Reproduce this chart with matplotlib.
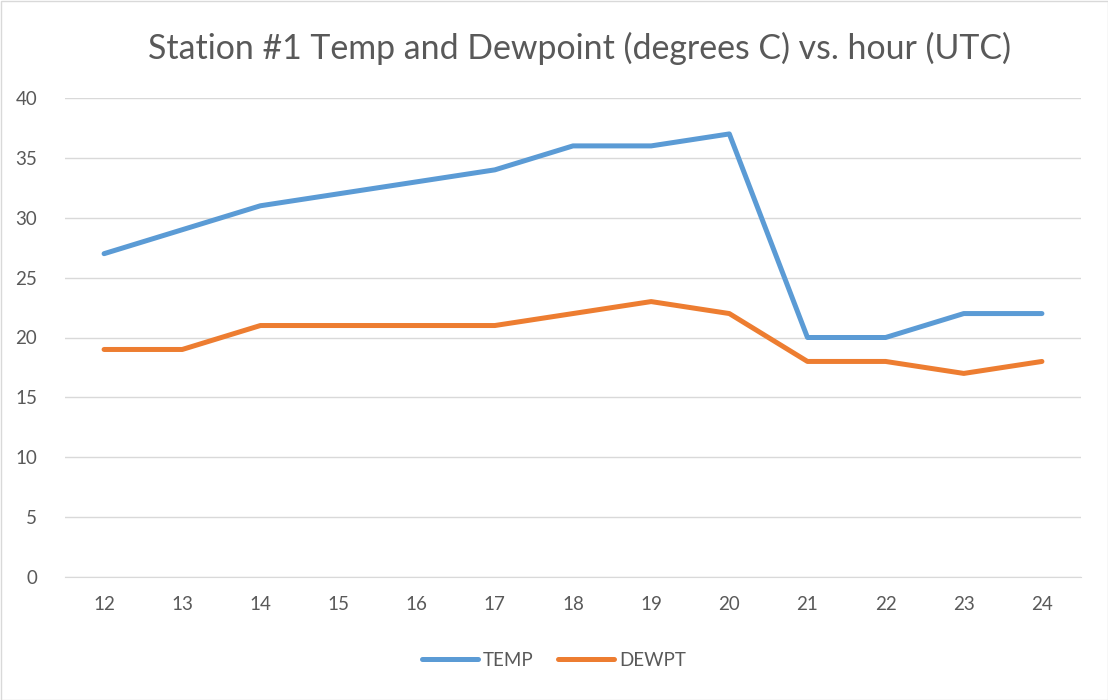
import matplotlib
matplotlib.use("Agg")
import matplotlib.pyplot as plt
from matplotlib.patches import Rectangle

hours = ["12", "13", "14", "15", "16", "17", "18", "19", "20", "21", "22", "23", "24"]
temp = [27, 29, 31, 32, 33, 34, 36, 36, 37, 20, 20, 22, 22]
dewpt = [19, 19, 21, 21, 21, 21, 22, 23, 22, 18, 18, 17, 18]
yticks = [0, 5, 10, 15, 20, 25, 30, 35, 40]

plt.rcParams['font.family'] = ['Lato', 'DejaVu Sans']

fig = plt.figure(figsize=(11.08, 7.0), dpi=100)
ax = fig.add_axes([65/1108, 1 - 577/700, (1081 - 65)/1108, (577 - 98)/700])

x = list(range(len(hours)))
ax.plot(x, temp, color="#5B9BD5", lw=3.6, label="TEMP", solid_capstyle="round", solid_joinstyle="round")
ax.plot(x, dewpt, color="#ED7D31", lw=3.6, label="DEWPT", solid_capstyle="round", solid_joinstyle="round")

ax.set_xlim(-0.5, len(hours) - 0.5)
ax.set_ylim(0, 40)
ax.set_xticks(x)
ax.set_xticklabels(hours)
ax.set_yticks(yticks)
ax.tick_params(axis="both", length=0, labelsize=13.5, labelcolor="#595959")
ax.tick_params(axis="x", pad=14)
ax.tick_params(axis="y", pad=20)
for lab in ax.get_yticklabels():
    lab.set_horizontalalignment("right")
ax.grid(axis="y", color="#D9D9D9", lw=1)
ax.set_axisbelow(True)
for s in ["top", "right", "left"]:
    ax.spines[s].set_visible(False)
ax.spines["bottom"].set_color("#D9D9D9")

fig.text(579/1108, 1 - 48/700, "Station #1 Temp and Dewpoint (degrees C) vs. hour (UTC)",
         ha="center", va="center", fontsize=24.4, color="#595959")

leg = fig.legend(loc="center", bbox_to_anchor=(0.5, 1 - 660/700), ncol=2, frameon=False,
                 fontsize=13.5, handlelength=3.0, columnspacing=1.3, handletextpad=0.25)
for t in leg.get_texts():
    t.set_color("#595959")

fig.patches.append(Rectangle((0.5/1108, 0.5/700), 1 - 1/1108, 1 - 1/700, transform=fig.transFigure,
                             fill=False, edgecolor="#D9D9D9", lw=1))

fig.savefig("out.png", dpi=100)
